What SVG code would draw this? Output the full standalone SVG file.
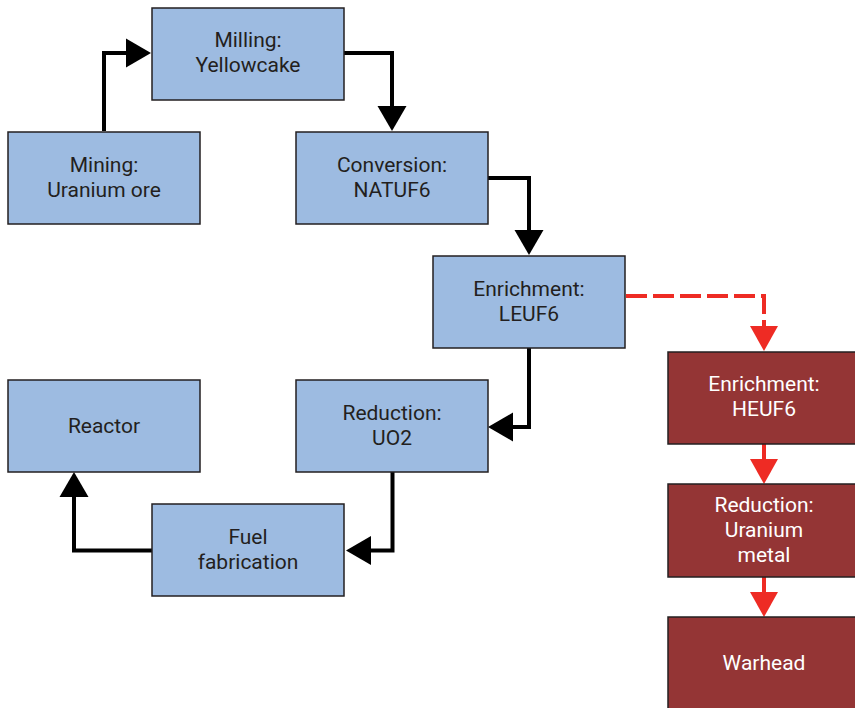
<svg xmlns="http://www.w3.org/2000/svg" width="855" height="708" viewBox="0 0 855 708">
<style>
.blue{fill:#9dbbe1;stroke:#231f20;stroke-width:1.5}
.red{fill:#943535;stroke:#231f20;stroke-width:1.5}
text{font-family:Roboto,"Open Sans","Liberation Sans",sans-serif;font-size:21px;text-anchor:middle}
.dk{fill:#231f20}
.wt{fill:#ffffff}
.c{fill:none;stroke:#000;stroke-width:4}
.r{fill:none;stroke:#ee2b24;stroke-width:4}
.rd{stroke-dasharray:21 6}
</style>
<defs>
<marker id="ab" markerUnits="userSpaceOnUse" markerWidth="26" markerHeight="30" viewBox="0 -15 26 30" refX="0" refY="0" orient="auto"><path d="M0,-14.5 L25,0 L0,14.5 z" fill="#000"/></marker>
<marker id="ar" markerUnits="userSpaceOnUse" markerWidth="26" markerHeight="30" viewBox="0 -15 26 30" refX="0" refY="0" orient="auto"><path d="M0,-14 L25,0 L0,14 z" fill="#ee2b24"/></marker>
</defs>
<g id="connectors">
<path class="c" d="M104,131 V53 H126" marker-end="url(#ab)"/>
<path class="c" d="M344,53 H392 V106" marker-end="url(#ab)"/>
<path class="c" d="M488,178 H529 V230" marker-end="url(#ab)"/>
<path class="c" d="M529,348 V427 H513" marker-end="url(#ab)"/>
<path class="c" d="M392.5,472 V550.5 H371" marker-end="url(#ab)"/>
<path class="c" d="M152,550.5 H74 V497" marker-end="url(#ab)"/>
<path class="r rd" d="M626,296 H764 V326" marker-end="url(#ar)"/>
<path class="r" d="M764,444 V459" marker-end="url(#ar)"/>
<path class="r" d="M764,577 V592" marker-end="url(#ar)"/>
</g>
<g id="mining"><rect class="blue" x="8" y="132" width="192" height="92"/><text class="dk" x="104" y="172">Mining:</text><text class="dk" x="104" y="197">Uranium ore</text></g>
<g id="milling"><rect class="blue" x="152" y="8" width="192" height="92"/><text class="dk" x="248" y="47">Milling:</text><text class="dk" x="248" y="72">Yellowcake</text></g>
<g id="conversion"><rect class="blue" x="296" y="132" width="192" height="92"/><text class="dk" x="392" y="172">Conversion:</text><text class="dk" x="392" y="197">NATUF6</text></g>
<g id="enrichment-leu"><rect class="blue" x="433" y="256" width="192" height="92"/><text class="dk" x="529" y="296">Enrichment:</text><text class="dk" x="529" y="321">LEUF6</text></g>
<g id="reduction-uo2"><rect class="blue" x="296" y="380" width="192" height="92"/><text class="dk" x="392" y="420">Reduction:</text><text class="dk" x="392" y="445">UO2</text></g>
<g id="reactor"><rect class="blue" x="8" y="380" width="192" height="92"/><text class="dk" x="104" y="433">Reactor</text></g>
<g id="fuel-fabrication"><rect class="blue" x="152" y="504" width="192" height="92"/><text class="dk" x="248" y="544">Fuel</text><text class="dk" x="248" y="569">fabrication</text></g>
<g id="enrichment-heu"><rect class="red" x="668" y="352" width="192" height="92"/><text class="wt" x="764" y="391">Enrichment:</text><text class="wt" x="764" y="416">HEUF6</text></g>
<g id="reduction-metal"><rect class="red" x="668" y="484" width="192" height="93"/><text class="wt" x="764" y="512">Reduction:</text><text class="wt" x="764" y="537">Uranium</text><text class="wt" x="764" y="562">metal</text></g>
<g id="warhead"><rect class="red" x="668" y="617" width="192" height="93"/><text class="wt" x="764" y="670">Warhead</text></g>
</svg>
